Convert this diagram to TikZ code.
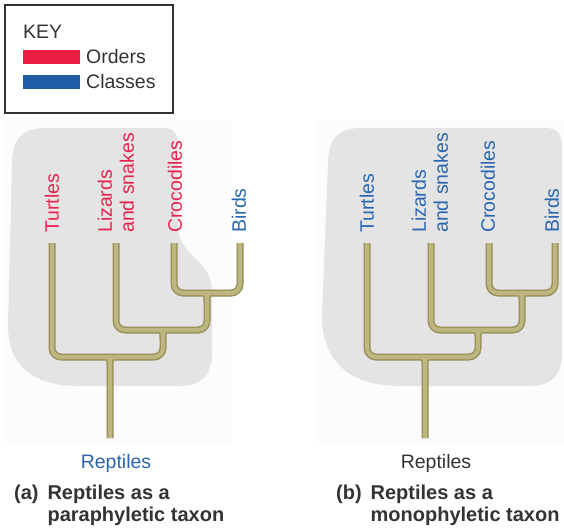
\documentclass[tikz,border=0pt]{standalone}
\usepackage{fontspec}
\setmainfont{Liberation Sans}
\usetikzlibrary{calc}
\definecolor{ordred}{HTML}{E8234D}
\definecolor{clsblue}{HTML}{2A66B0}
\definecolor{keyred}{HTML}{EA1C44}
\definecolor{keyblue}{HTML}{1F5DA6}
\definecolor{rink}{HTML}{333333}
\definecolor{panelgray}{HTML}{E4E4E4}
\definecolor{panelfaint}{HTML}{FCFCFC}
\definecolor{tubelight}{HTML}{BDB680}
\definecolor{tubedark}{HTML}{9A945C}

% one cladogram: tips, joints, then the tube drawn in three passes
\newcommand{\reptiletree}{%
  \coordinate (tu) at (52,243);
  \coordinate (li) at (116,243);
  \coordinate (cr) at (174,243);
  \coordinate (bi) at (240,243);
  \coordinate (cb) at (207,293);
  \coordinate (lc) at (163,330);
  \coordinate (all) at (110,357);
  \coordinate (rt) at (110,438);
  \foreach \st in {tubeshadow,tubeedge,tubecore}
    \draw[\st] (cr) |- (cb) -| (bi)
      (li) |- (lc) -| (cb)
      (tu) |- (all) -| (lc)
      (all) -- (rt)
      ($(cb)+(-9,0)$) .. controls (cb) .. ($(cb)+(0,9)$)
      ($(cb)+(9,0)$) .. controls (cb) .. ($(cb)+(0,9)$)
      ($(lc)+(-9,0)$) .. controls (lc) .. ($(lc)+(0,9)$)
      ($(lc)+(9,0)$) .. controls (lc) .. ($(lc)+(0,9)$)
      ($(all)+(-9,0)$) .. controls (all) .. ($(all)+(0,9)$)
      ($(all)+(9,0)$) .. controls (all) .. ($(all)+(0,9)$);
}

\begin{document}
\begin{tikzpicture}[x=1pt, y=-1pt, font=\fontsize{19.5}{22}\selectfont, text=rink,
    leaf/.style={rotate=90, anchor=west, inner sep=0pt, align=left},
    tubeshadow/.style={draw=black!15, line width=7pt, rounded corners=9pt, shift={(1.5,2)}},
    tubeedge/.style={draw=tubedark, line width=7pt, rounded corners=9pt},
    tubecore/.style={draw=tubelight, line width=4pt, rounded corners=9pt},
    caption/.style={anchor=north west, inner sep=0pt, font=\fontsize{20}{22}\selectfont\bfseries},
  ]
  \useasboundingbox (0,0) rectangle (564,528);

  % key
  \draw[rink, line width=1.2pt] (5,5) rectangle (173,113);
  \node[anchor=west, inner sep=0pt] (keyttl) at (23,32) {KEY};
  \fill[keyred] (23,50) rectangle (80,64);
  \fill[keyblue] (23,75) rectangle (80,89);
  \node[anchor=west, inner sep=0pt] (ordtxt) at (86,57) {Orders};
  \node[anchor=west, inner sep=0pt] (clstxt) at (86,82) {Classes};

  % gray panels behind the trees
  \fill[panelfaint] (4,120) rectangle (232,442);
  \fill[panelfaint] (316,120) rectangle (564,442);
  \fill[panelgray] (12,165) .. controls (12,138) and (22,128) .. (48,128) -- (162,128)
    .. controls (174,128) and (178,133) .. (178,145) -- (178,225)
    .. controls (178,258) and (212,258) .. (212,292) -- (212,352)
    .. controls (212,376) and (202,386) .. (178,386) -- (80,386)
    .. controls (35,386) and (8,368) .. (8,325) -- cycle;
  \fill[panelgray] (328,165) .. controls (328,138) and (338,128) .. (362,128) -- (545,128)
    .. controls (557,128) and (562,134) .. (562,146) -- (562,352)
    .. controls (562,376) and (552,386) .. (528,386) -- (400,386)
    .. controls (350,386) and (322,362) .. (322,315) -- cycle;

  % (a) paraphyletic
  \begin{scope}
    \reptiletree
    \node[leaf, text=ordred] (turtA) at ($(tu)+(0,-10)$) {Turtles};
    \node[leaf, text=ordred] (lizA) at ($(li)+(0,-10)$) {Lizards\\and snakes};
    \node[leaf, text=ordred] (crocA) at ($(cr)+(1,-10)$) {Crocodiles};
    \node[leaf, text=clsblue] (birdA) at ($(bi)+(-1,-10)$) {Birds};
  \end{scope}

  % (b) monophyletic
  \begin{scope}[xshift=315pt]
    \reptiletree
    \node[leaf, text=clsblue] (turtB) at ($(tu)+(0,-10)$) {Turtles};
    \node[leaf, text=clsblue] (lizB) at ($(li)+(-1,-10)$) {Lizards\\and snakes};
    \node[leaf, text=clsblue] (crocB) at ($(cr)+(-1,-10)$) {Crocodiles};
    \node[leaf, text=clsblue] (birdB) at ($(bi)+(-3,-10)$) {Birds};
  \end{scope}

  \node[text=clsblue, inner sep=0pt] (reptA) at (116,463) {Reptiles};
  \node[text=rink, inner sep=0pt] (reptB) at (436,463) {Reptiles};

  \node[caption] (capA) at (14,484)
    {\begin{tabular}{@{}l@{\ \,}l@{}}(a) & Reptiles as a\\ & paraphyletic taxon\end{tabular}};
  \node[caption] (capB) at (336,484)
    {\begin{tabular}{@{}l@{\ \,}l@{}}(b) & Reptiles as a\\ & monophyletic taxon\end{tabular}};
\end{tikzpicture}
\end{document}
